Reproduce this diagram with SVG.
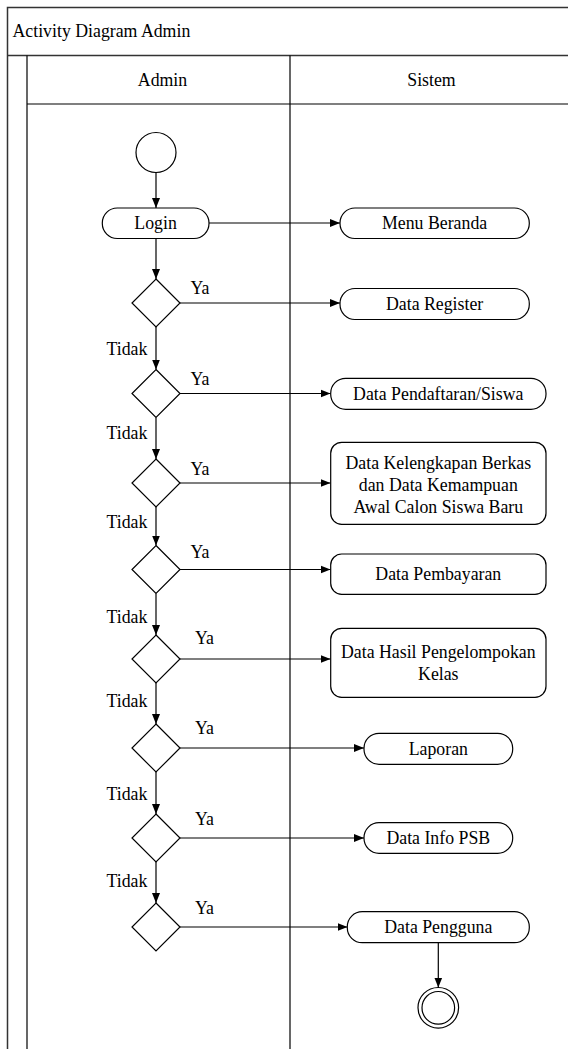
<svg xmlns="http://www.w3.org/2000/svg" width="568" height="1049" viewBox="0 0 568 1049">
<style>
text{font-family:'Liberation Serif','DejaVu Serif',serif;font-size:17.8px;fill:#000}
.c{text-anchor:middle}
.frame{fill:none;stroke:#333;stroke-width:1.5}
.lane{fill:none;stroke:#000;stroke-width:1.2}
.act{fill:#fff;stroke:#000;stroke-width:1.2}
.dec{fill:#fff;stroke:#000;stroke-width:1.2}
.edge{fill:none;stroke:#000;stroke-width:1.2;marker-end:url(#ah)}
</style>
<defs>
<marker id="ah" viewBox="0 0 10 10" refX="10" refY="5" markerWidth="10" markerHeight="10" markerUnits="userSpaceOnUse" orient="auto">
<path d="M0,1 L10,5 L0,9 Z" fill="#000"/>
</marker>
</defs>
<rect width="568" height="1049" fill="#fff"/>
<g font-family="Liberation Serif, DejaVu Serif, serif">
<g id="pool">
<path class="frame" d="M580,7.5 H7.5 V1060"/>
<line class="frame" x1="7.5" y1="55.5" x2="580" y2="55.5"/>
<text x="12.5" y="37">Activity Diagram Admin</text>
<line class="lane" x1="27" y1="55.5" x2="27" y2="1060"/>
<line class="lane" x1="27" y1="104" x2="580" y2="104"/>
<line class="lane" x1="290" y1="55.5" x2="290" y2="1060"/>
<text class="c" x="162.5" y="85.5">Admin</text>
<text class="c" x="431.5" y="85.5">Sistem</text>
</g>
<g id="edges">
<line class="edge" x1="156" y1="172.5" x2="156" y2="208"/>
<line class="edge" x1="209" y1="223" x2="340" y2="223"/>
<line class="edge" x1="156" y1="238" x2="156" y2="279"/>
<line class="edge" x1="180" y1="303" x2="340" y2="303"/>
<line class="edge" x1="156" y1="327" x2="156" y2="369.5"/>
<line class="edge" x1="180" y1="393.5" x2="330.5" y2="393.5"/>
<line class="edge" x1="156" y1="417.5" x2="156" y2="459"/>
<line class="edge" x1="180" y1="483" x2="330.5" y2="483"/>
<line class="edge" x1="156" y1="507" x2="156" y2="545.5"/>
<line class="edge" x1="180" y1="569.5" x2="330.5" y2="569.5"/>
<line class="edge" x1="156" y1="593.5" x2="156" y2="635"/>
<line class="edge" x1="180" y1="659" x2="330.5" y2="659"/>
<line class="edge" x1="156" y1="683" x2="156" y2="724"/>
<line class="edge" x1="180" y1="748" x2="364" y2="748"/>
<line class="edge" x1="156" y1="772" x2="156" y2="814"/>
<line class="edge" x1="180" y1="838" x2="364" y2="838"/>
<line class="edge" x1="156" y1="862" x2="156" y2="903"/>
<line class="edge" x1="180" y1="927" x2="347.5" y2="927"/>
<line class="edge" x1="438.3" y1="942.7" x2="438.3" y2="987.5"/>
<text x="190.5" y="294">Ya</text>
<text x="190.5" y="384.5">Ya</text>
<text x="190.5" y="474.5">Ya</text>
<text x="190.5" y="558">Ya</text>
<text x="195" y="644">Ya</text>
<text x="195" y="734">Ya</text>
<text x="195" y="825">Ya</text>
<text x="195" y="914">Ya</text>
<text x="106.5" y="355">Tidak</text>
<text x="106.5" y="439">Tidak</text>
<text x="106.5" y="528">Tidak</text>
<text x="106.5" y="623">Tidak</text>
<text x="106.5" y="707">Tidak</text>
<text x="106.5" y="800">Tidak</text>
<text x="106.5" y="887">Tidak</text>
</g>
<g id="start"><circle class="act" cx="156" cy="152.5" r="20"/></g>
<g id="login"><rect class="act" x="102.3" y="208" width="106.7" height="30.5" rx="15"/><text class="c" x="155.6" y="228.8">Login</text></g>
<g id="menu-beranda"><rect class="act" x="340" y="208" width="189.3" height="30.5" rx="15"/><text class="c" x="434.6" y="228.8">Menu Beranda</text></g>
<g id="d1"><path class="dec" d="M156,279 L180,303 L156,327 L132,303 Z"/></g>
<g id="data-register"><rect class="act" x="340" y="288.5" width="189.3" height="31" rx="15"/><text class="c" x="434.6" y="309.5">Data Register</text></g>
<g id="d2"><path class="dec" d="M156,369.5 L180,393.5 L156,417.5 L132,393.5 Z"/></g>
<g id="data-pendaftaran"><rect class="act" x="330.7" y="378.3" width="215.3" height="31" rx="15"/><text class="c" x="438.3" y="399.5">Data Pendaftaran/Siswa</text></g>
<g id="d3"><path class="dec" d="M156,459 L180,483 L156,507 L132,483 Z"/></g>
<g id="data-kelengkapan"><rect class="act" x="330.7" y="442.3" width="215.3" height="82" rx="11"/><text class="c" x="438.3" y="468.5">Data Kelengkapan Berkas</text><text class="c" x="438.3" y="490.5">dan Data Kemampuan</text><text class="c" x="438.3" y="512.5">Awal Calon Siswa Baru</text></g>
<g id="d4"><path class="dec" d="M156,545.5 L180,569.5 L156,593.5 L132,569.5 Z"/></g>
<g id="data-pembayaran"><rect class="act" x="330.7" y="554" width="215.3" height="40.3" rx="11"/><text class="c" x="438.3" y="580">Data Pembayaran</text></g>
<g id="d5"><path class="dec" d="M156,635 L180,659 L156,683 L132,659 Z"/></g>
<g id="data-hasil"><rect class="act" x="330.7" y="628.3" width="215.3" height="69" rx="11"/><text class="c" x="438.3" y="658">Data Hasil Pengelompokan</text><text class="c" x="438.3" y="680">Kelas</text></g>
<g id="d6"><path class="dec" d="M156,724 L180,748 L156,772 L132,748 Z"/></g>
<g id="laporan"><rect class="act" x="364" y="733.3" width="148.7" height="31" rx="15"/><text class="c" x="438.3" y="754.5">Laporan</text></g>
<g id="d7"><path class="dec" d="M156,814 L180,838 L156,862 L132,838 Z"/></g>
<g id="data-info-psb"><rect class="act" x="364" y="822.7" width="148.7" height="30.6" rx="15"/><text class="c" x="438.3" y="843.8">Data Info PSB</text></g>
<g id="d8"><path class="dec" d="M156,903 L180,927 L156,951 L132,927 Z"/></g>
<g id="data-pengguna"><rect class="act" x="347.3" y="911.7" width="182" height="31" rx="15"/><text class="c" x="438.3" y="932.8">Data Pengguna</text></g>
<g id="end"><circle class="act" cx="438.3" cy="1007.8" r="20.3"/><circle class="act" cx="438.3" cy="1007.8" r="16.3"/></g>
</g>
</svg>
